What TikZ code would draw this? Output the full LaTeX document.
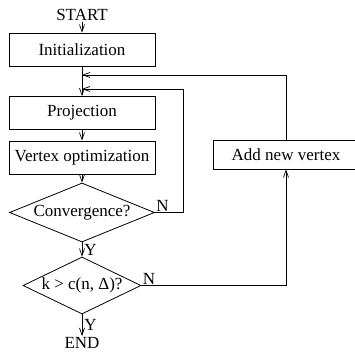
\documentclass[tikz,border=0pt]{standalone}
\usepackage{fontspec}
\setmainfont{Liberation Serif}
\usetikzlibrary{shapes.geometric,arrows.meta}

\begin{document}
\begin{tikzpicture}[x=1pt, y=-1pt,
    font=\fontsize{17}{20}\selectfont,
    line width=0.8pt,
    >={Straight Barb[length=7pt,width=5pt,line width=0.7pt]},
    stepbox/.style={draw, rectangle, minimum width=146pt, minimum height=33pt, inner sep=0pt},
    test/.style={draw, diamond, inner sep=0pt, aspect=2.4},
    term/.style={inner sep=1pt}]

    \useasboundingbox (0,0) rectangle (354,355);

    %% Main column
    \node[term] (start) at (82,15) {START};
    \node[stepbox] (init) at (82,49.5) {Initialization};
    \node[stepbox] (proj) at (82,113) {Projection};
    \node[stepbox] (vopt) at (82,157.5) {Vertex optimization};
    \node[test, minimum width=145pt, minimum height=59pt] (conv) at (82,212.5) {Convergence?};
    \node[test, minimum width=116pt, minimum height=57pt] (kcheck) at (82,285.5) {k > c(n, Δ)?};
    \node[term] (end) at (82,343) {END};

    % Side box
    \node[stepbox, minimum height=29pt] (add) at (286,154.5) {Add new vertex};

    % Joins on the main column
    \coordinate (inB) at (82,75);
    \coordinate (inA) at (82,89);
    \coordinate (loopA) at (183,89);

    %% Forward arrows
    \draw[->] (start) -- (init);
    \draw[->] (init) -- (proj);
    \draw[->] (proj) -- (vopt);
    \draw[->] (vopt) -- (conv);
    \draw[->] (conv) -- node[right, inner sep=2pt] {Y} (kcheck);
    \draw[->] (kcheck) -- node[right, inner sep=2pt] {Y} (end);

    %% Loop back from convergence test
    \draw[->] (conv.east) node[above right, inner sep=1pt] {N} -- (conv.east -| loopA) -- (loopA) -- (inA);

    %% Loop through new vertex
    \draw[->] (kcheck.east) node[above right, inner sep=1pt] {N} -| (add.south);
    \draw[->] (add.north) |- (inB);

\end{tikzpicture}
\end{document}
